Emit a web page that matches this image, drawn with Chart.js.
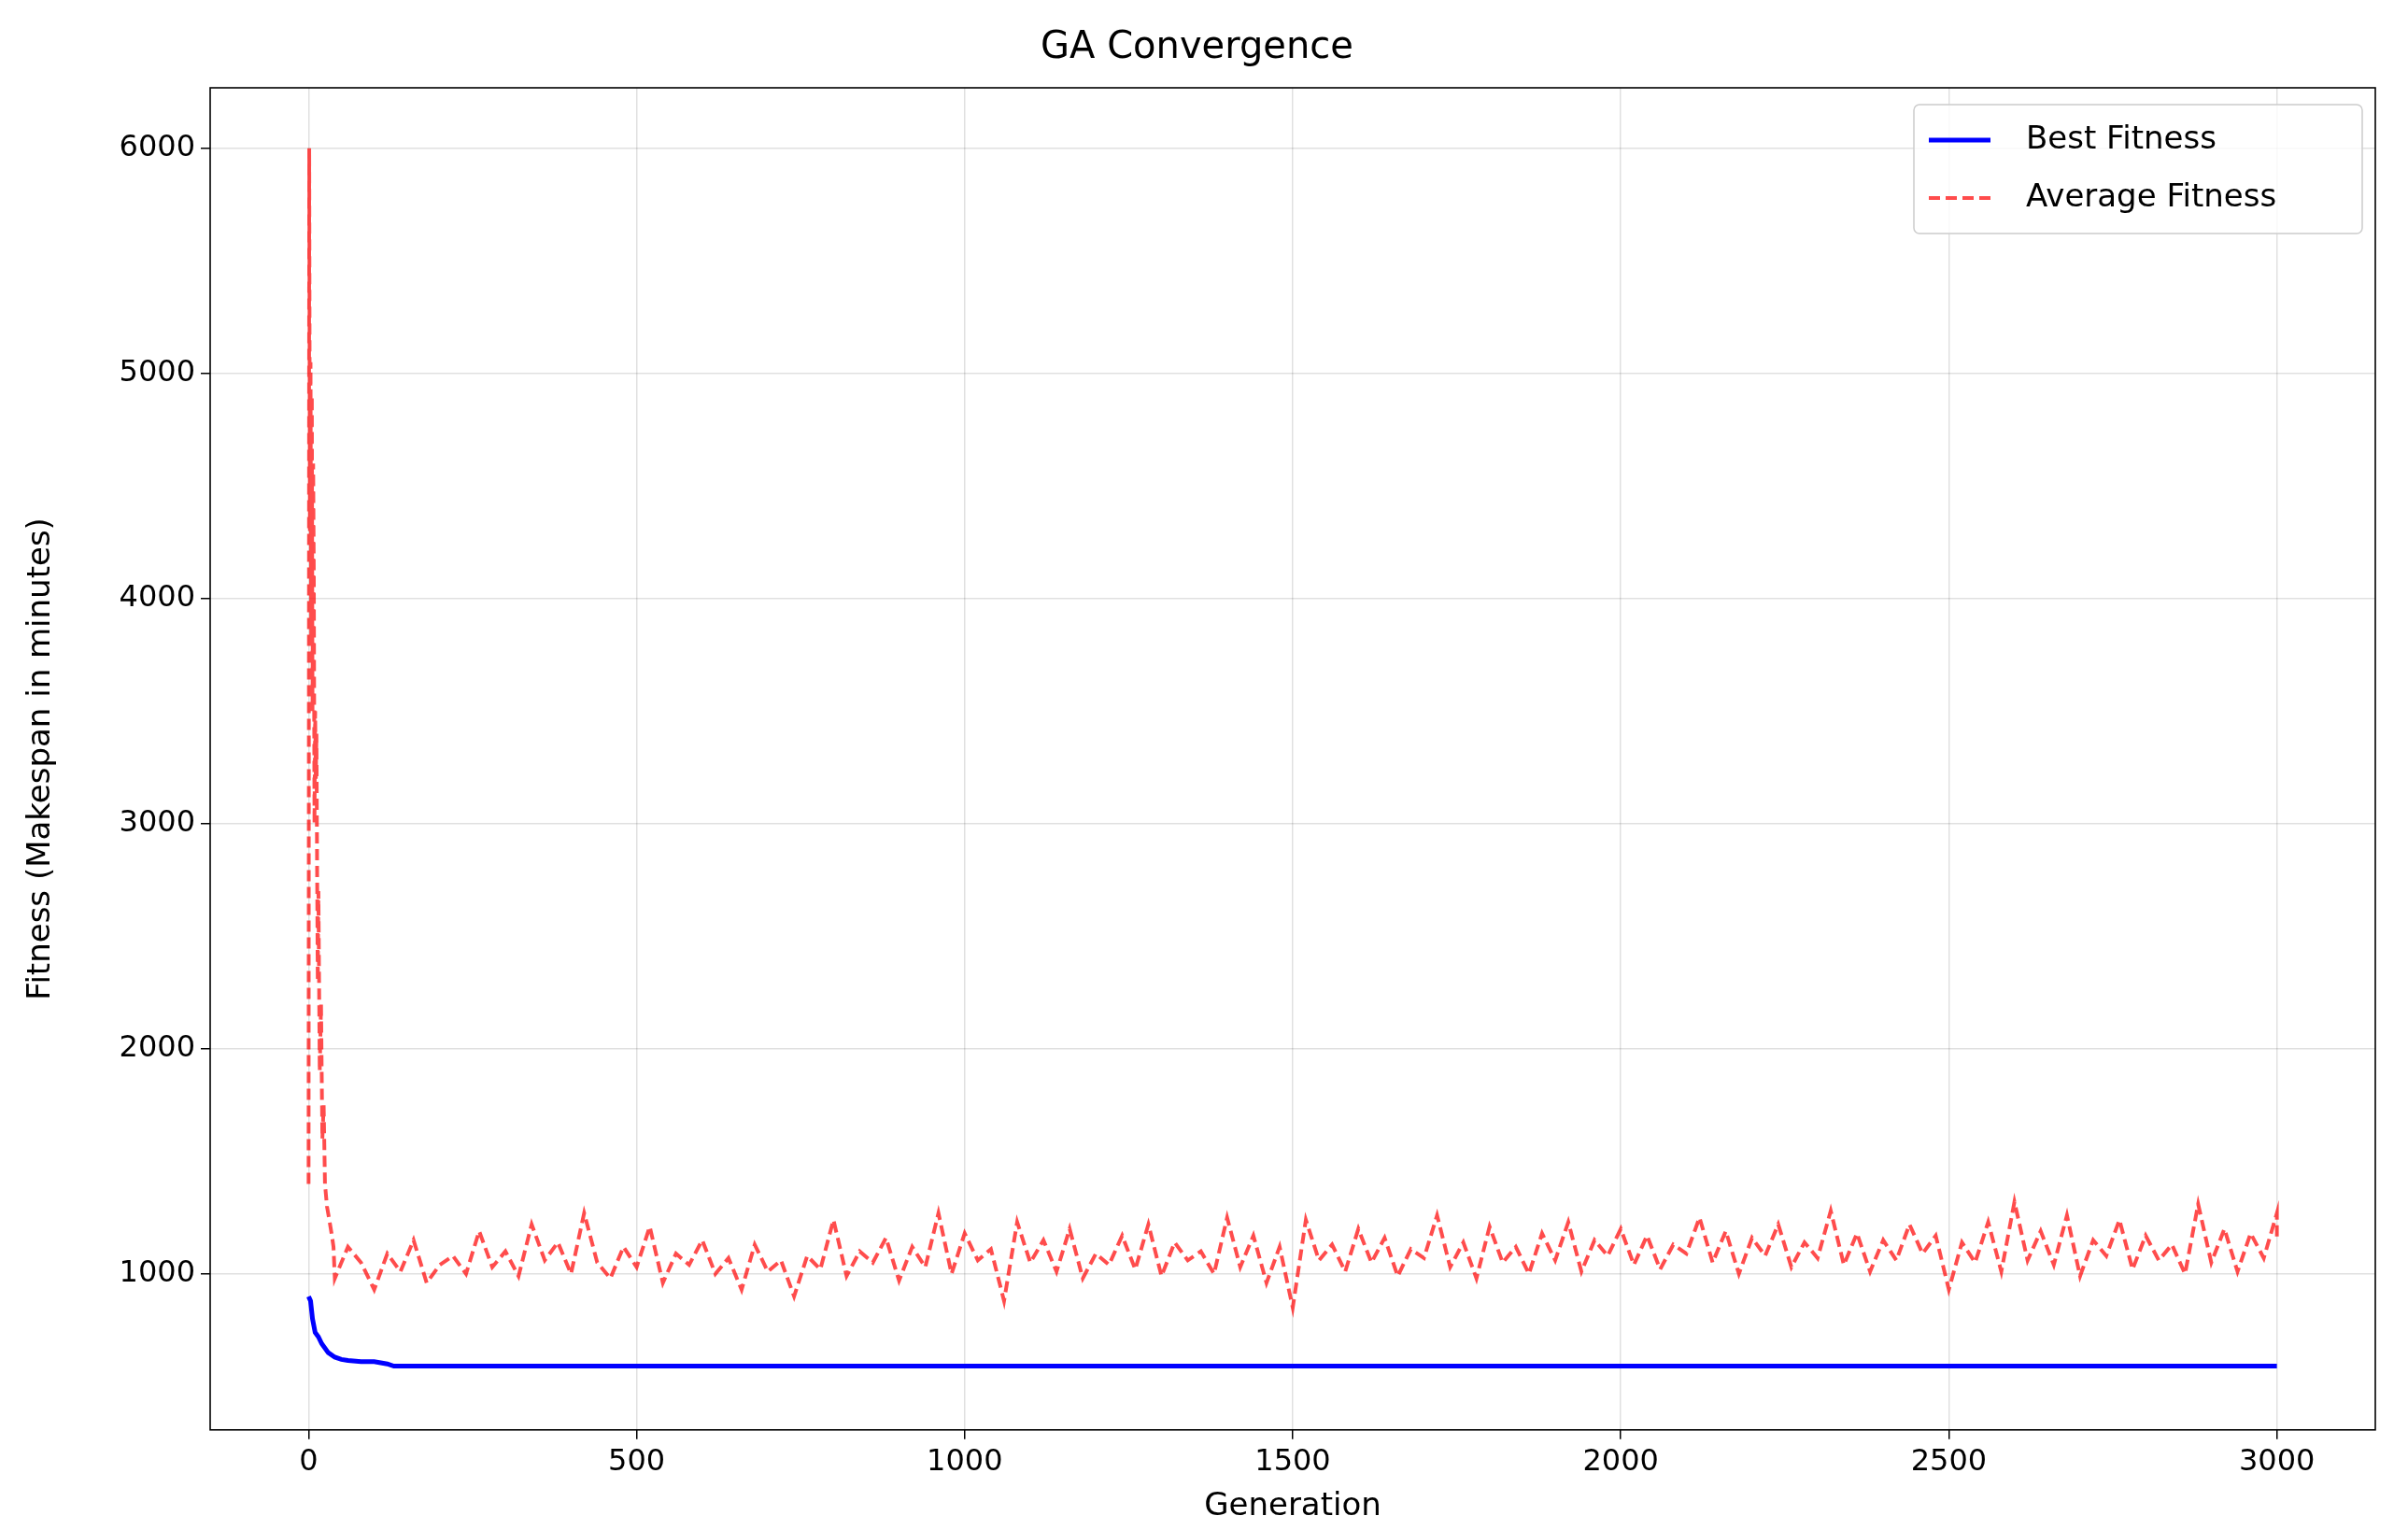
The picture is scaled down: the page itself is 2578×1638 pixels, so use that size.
<!DOCTYPE html>
<html>
<head>
<meta charset="utf-8">
<script src="https://cdn.jsdelivr.net/npm/chart.js@4/dist/chart.umd.min.js"></script>
<style>
  body { margin: 0; background: #fff; }
  canvas { display: block; }
</style>
</head>
<body>
<canvas id="chart" width="2578" height="1638"></canvas>
<script>
// Best fitness
const bestGen = [0, 3, 6, 10, 15, 20, 30, 40, 50, 60, 80, 100, 110, 120, 130, 3000];
const bestVal = [900, 880, 800, 740, 720, 690, 650, 630, 620, 615, 610, 610, 605, 600, 590, 590];

// Average fitness: early spike then noisy plateau
const avgGen = [0, 1, 2, 3, 4, 5, 6, 7, 8, 9, 10, 11, 12, 13, 14, 15, 17, 19, 21, 23, 25, 28, 31, 35, 38];
const avgValEarly = [1400, 6000, 4300, 5050, 3800, 4900, 3500, 4600, 4100, 3000, 3500, 3200, 3400, 2800, 2300, 2700, 1900, 2200, 1600, 1750, 1400, 1300, 1250, 1180, 1120];
const avgValLate = [
  980, 1120, 1050, 930, 1090, 1010, 1150, 960, 1040, 1080, 1000, 1190, 1030, 1100, 990, 1220,
  1060, 1140, 1000, 1270, 1050, 980, 1120, 1030, 1210, 960, 1090, 1040, 1150, 1000, 1070, 930,
  1130, 1010, 1060, 900, 1080, 1020, 1240, 990, 1100, 1050, 1160, 970, 1120, 1030, 1270, 1000,
  1180, 1060, 1110, 880, 1230, 1050, 1150, 1010, 1200, 980, 1090, 1040, 1170, 1020, 1220, 990,
  1140, 1060, 1100, 1000, 1250, 1030, 1170, 960, 1120, 850, 1240, 1060, 1130, 1010, 1200, 1050,
  1160, 990, 1110, 1070, 1260, 1030, 1140, 980, 1210, 1050, 1120, 1000, 1180, 1060, 1230, 1010,
  1150, 1080, 1200, 1040, 1170, 1020, 1130, 1090, 1250, 1050, 1190, 1000, 1160, 1080, 1220, 1030,
  1140, 1070, 1280, 1040, 1180, 1010, 1150, 1060, 1220, 1090, 1170, 930, 1140, 1050, 1230, 1010,
  1320, 1060, 1190, 1040, 1260, 990, 1150, 1080, 1240, 1020, 1170, 1060, 1130, 1000, 1310, 1050,
  1200, 1010, 1180, 1070, 1270, 1150
];
const avgStart = 40, avgStep = 20;

const xTicks = [0, 500, 1000, 1500, 2000, 2500, 3000];
const yTicks = [1000, 2000, 3000, 4000, 5000, 6000];

const bestData = bestGen.map((g, i) => ({ x: g, y: bestVal[i] }));
const avgData = avgGen.map((g, i) => ({ x: g, y: avgValEarly[i] }))
  .concat(avgValLate.map((v, i) => ({ x: Math.min(avgStart + i * avgStep, 3000), y: v })));

const FONT = "DejaVu Sans";

const framePlugin = {
  id: "frame",
  afterDraw(chart) {
    const { ctx, chartArea: a } = chart;
    ctx.save();
    ctx.strokeStyle = "#000";
    ctx.lineWidth = 1.6;
    ctx.strokeRect(a.left, a.top, a.right - a.left, a.bottom - a.top);
    // legend box
    const w = 480, h = 138, x = a.right - w - 14, y = a.top + 18;
    ctx.fillStyle = "rgba(255,255,255,0.8)";
    ctx.strokeStyle = "#ccc";
    ctx.lineWidth = 1.5;
    ctx.beginPath();
    ctx.roundRect(x, y, w, h, 6);
    ctx.fill(); ctx.stroke();
    ctx.lineWidth = 5;
    ctx.strokeStyle = "#0000ff";
    ctx.beginPath(); ctx.moveTo(x + 16, y + 38); ctx.lineTo(x + 82, y + 38); ctx.stroke();
    ctx.lineWidth = 4;
    ctx.strokeStyle = "rgba(255,0,0,0.7)";
    ctx.setLineDash([12, 6]);
    ctx.beginPath(); ctx.moveTo(x + 16, y + 100); ctx.lineTo(x + 82, y + 100); ctx.stroke();
    ctx.setLineDash([]);
    ctx.fillStyle = "#000";
    ctx.font = "34px '" + FONT + "'";
    ctx.textBaseline = "middle";
    ctx.fillText("Best Fitness", x + 120, y + 38);
    ctx.fillText("Average Fitness", x + 120, y + 100);
    ctx.restore();
  }
};

new Chart(document.getElementById("chart"), {
  type: "line",
  data: {
    datasets: [
      { label: "Best Fitness", data: bestData, borderColor: "#0000ff", borderWidth: 5, pointRadius: 0, tension: 0 },
      { label: "Average Fitness", data: avgData, borderColor: "rgba(255,0,0,0.7)", borderWidth: 4, borderDash: [12, 6], pointRadius: 0, tension: 0 }
    ]
  },
  options: {
    responsive: false,
    animation: false,
    devicePixelRatio: 1,
    layout: { padding: { top: 8, right: 35, bottom: 4, left: 20 } },
    plugins: {
      legend: { display: false },
      tooltip: { enabled: false },
      title: { display: true, text: "GA Convergence", color: "#000", font: { family: FONT, size: 40, weight: "normal" }, padding: { top: 20, bottom: 18 } }
    },
    scales: {
      x: {
        type: "linear", min: -150, max: 3150,
        afterBuildTicks: s => { s.ticks = xTicks.map(v => ({ value: v })); },
        ticks: { color: "#000", font: { family: FONT, size: 32 }, padding: 6, maxRotation: 0, callback: v => String(v) },
        grid: { color: "rgba(0,0,0,0.12)", lineWidth: 1.5, tickColor: "#000", tickLength: 10 },
        border: { display: false },
        title: { display: true, text: "Generation", color: "#000", font: { family: FONT, size: 34 }, padding: { top: 2, bottom: 0 } }
      },
      y: {
        type: "linear", min: 307, max: 6269,
        afterBuildTicks: s => { s.ticks = yTicks.map(v => ({ value: v })); },
        afterFit: s => { s.width = 205; },
        ticks: { color: "#000", font: { family: FONT, size: 32 }, padding: 6, callback: v => String(v) },
        grid: { color: "rgba(0,0,0,0.12)", lineWidth: 1.5, tickColor: "#000", tickLength: 10 },
        border: { display: false },
        title: { display: true, text: "Fitness (Makespan in minutes)", color: "#000", font: { family: FONT, size: 34 }, padding: { bottom: 6 } }
      }
    }
  },
  plugins: [framePlugin]
});
</script>
</body>
</html>
